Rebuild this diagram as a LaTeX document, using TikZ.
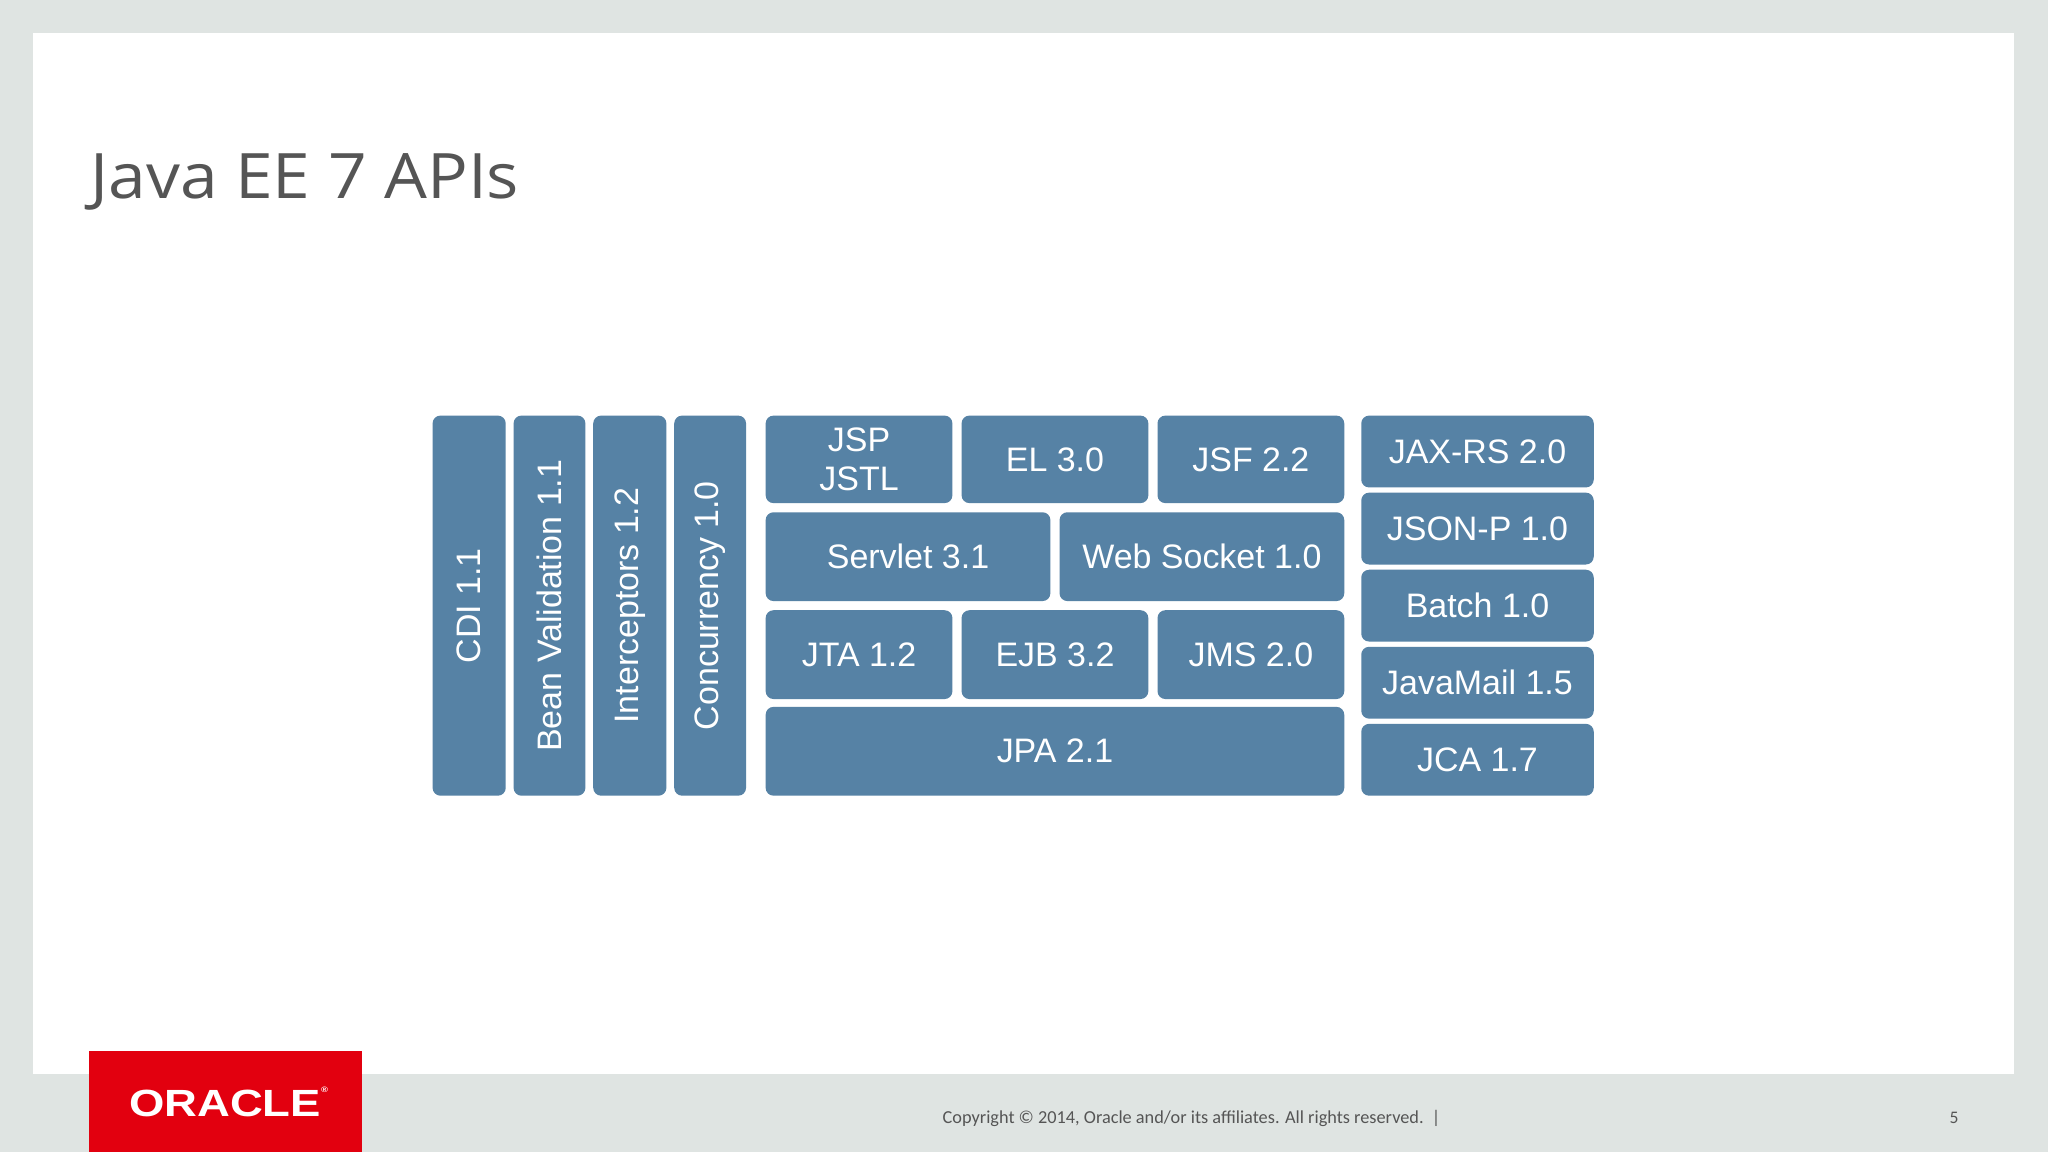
\documentclass[tikz,border=0pt]{standalone}
\usepackage{fontspec}
\setmainfont{Liberation Sans}
\newfontfamily\calib{Carlito}
\newfontfamily\opens{Open Sans}
\definecolor{bx}{HTML}{5682A5}
\definecolor{bgc}{HTML}{DFE4E2}
\definecolor{ored}{HTML}{E2000F}
\definecolor{tgray}{HTML}{555555}
\begin{document}
\begin{tikzpicture}[x=1pt,y=-1pt,
 box/.style={fill=bx,rounded corners=6pt,text=white,font=\fontsize{26}{30}\selectfont,inner sep=0pt,align=center,anchor=north west}]
\useasboundingbox (0,0) rectangle (1568,882);
\fill[bgc] (0,0) rectangle (1568,882);
\fill[white] (25,25) rectangle (1542,822);
\node[anchor=base west,text=tgray,font=\opens\fontsize{48}{56}\selectfont,inner sep=0,xscale=1.08] (title) at (69,152) {Java EE 7 APIs};
% vertical columns
\node[box,minimum width=56pt,minimum height=291pt] (cdi) at (331,318) {};
\node[rotate=90,text=white,font=\fontsize{26}{29}\selectfont] (cdit) at (cdi.center) {CDI 1.1};
\node[box,minimum width=55pt,minimum height=291pt] (bv) at (393,318) {};
\node[rotate=90,text=white,font=\fontsize{26}{29}\selectfont] (bvt) at (bv.center) {Bean Validation 1.1};
\node[box,minimum width=56pt,minimum height=291pt] (ic) at (454,318) {};
\node[rotate=90,text=white,font=\fontsize{26}{29}\selectfont] (ict) at (ic.center) {Interceptors 1.2};
\node[box,minimum width=55pt,minimum height=291pt] (cc) at (516,318) {};
\node[rotate=90,text=white,font=\fontsize{26}{29}\selectfont] (cct) at (cc.center) {Concurrency 1.0};
% middle
\node[box,minimum width=143pt,minimum height=67pt] (jsp) at (586,318) {JSP\\JSTL};
\node[box,minimum width=143pt,minimum height=67pt] (el) at (736,318) {EL 3.0};
\node[box,minimum width=143pt,minimum height=67pt] (jsf) at (886,318) {JSF 2.2};
\node[box,minimum width=218pt,minimum height=68pt] (serv) at (586,392) {Servlet 3.1};
\node[box,minimum width=218pt,minimum height=68pt] (ws) at (811,392) {Web Socket 1.0};
\node[box,minimum width=143pt,minimum height=68pt] (jta) at (586,467) {JTA 1.2};
\node[box,minimum width=143pt,minimum height=68pt] (ejb) at (736,467) {EJB 3.2};
\node[box,minimum width=143pt,minimum height=68pt] (jms) at (886,467) {JMS 2.0};
\node[box,minimum width=443pt,minimum height=68pt] (jpa) at (586,541) {JPA 2.1};
% right
\node[box,minimum width=178pt,minimum height=55pt] (jaxrs) at (1042,318) {JAX-RS 2.0};
\node[box,minimum width=178pt,minimum height=55pt] (json) at (1042,377) {JSON-P 1.0};
\node[box,minimum width=178pt,minimum height=55pt] (batch) at (1042,436) {Batch 1.0};
\node[box,minimum width=178pt,minimum height=55pt] (mail) at (1042,495) {JavaMail 1.5};
\node[box,minimum width=178pt,minimum height=55pt] (jca) at (1042,554) {JCA 1.7};
% footer
\fill[ored] (68,805) rectangle (277,882);
\node[text=white,font=\bfseries\fontsize{29}{30}\selectfont,inner sep=0,xscale=1.2] (oracle) at (175,844) {ORACLE\raisebox{1.2ex}{\fontsize{6}{6}\selectfont\textregistered}};
\node[anchor=base east,text=tgray,font=\calib\fontsize{14}{15}\selectfont,inner sep=0] (copy) at (1103,860) {Copyright © 2014, Oracle and/or its affiliates. All rights reserved.\ \ |};
\node[anchor=base,text=tgray,font=\calib\fontsize{13.5}{15}\selectfont,inner sep=0] (pg) at (1496,860) {5};
\end{tikzpicture}
\end{document}
